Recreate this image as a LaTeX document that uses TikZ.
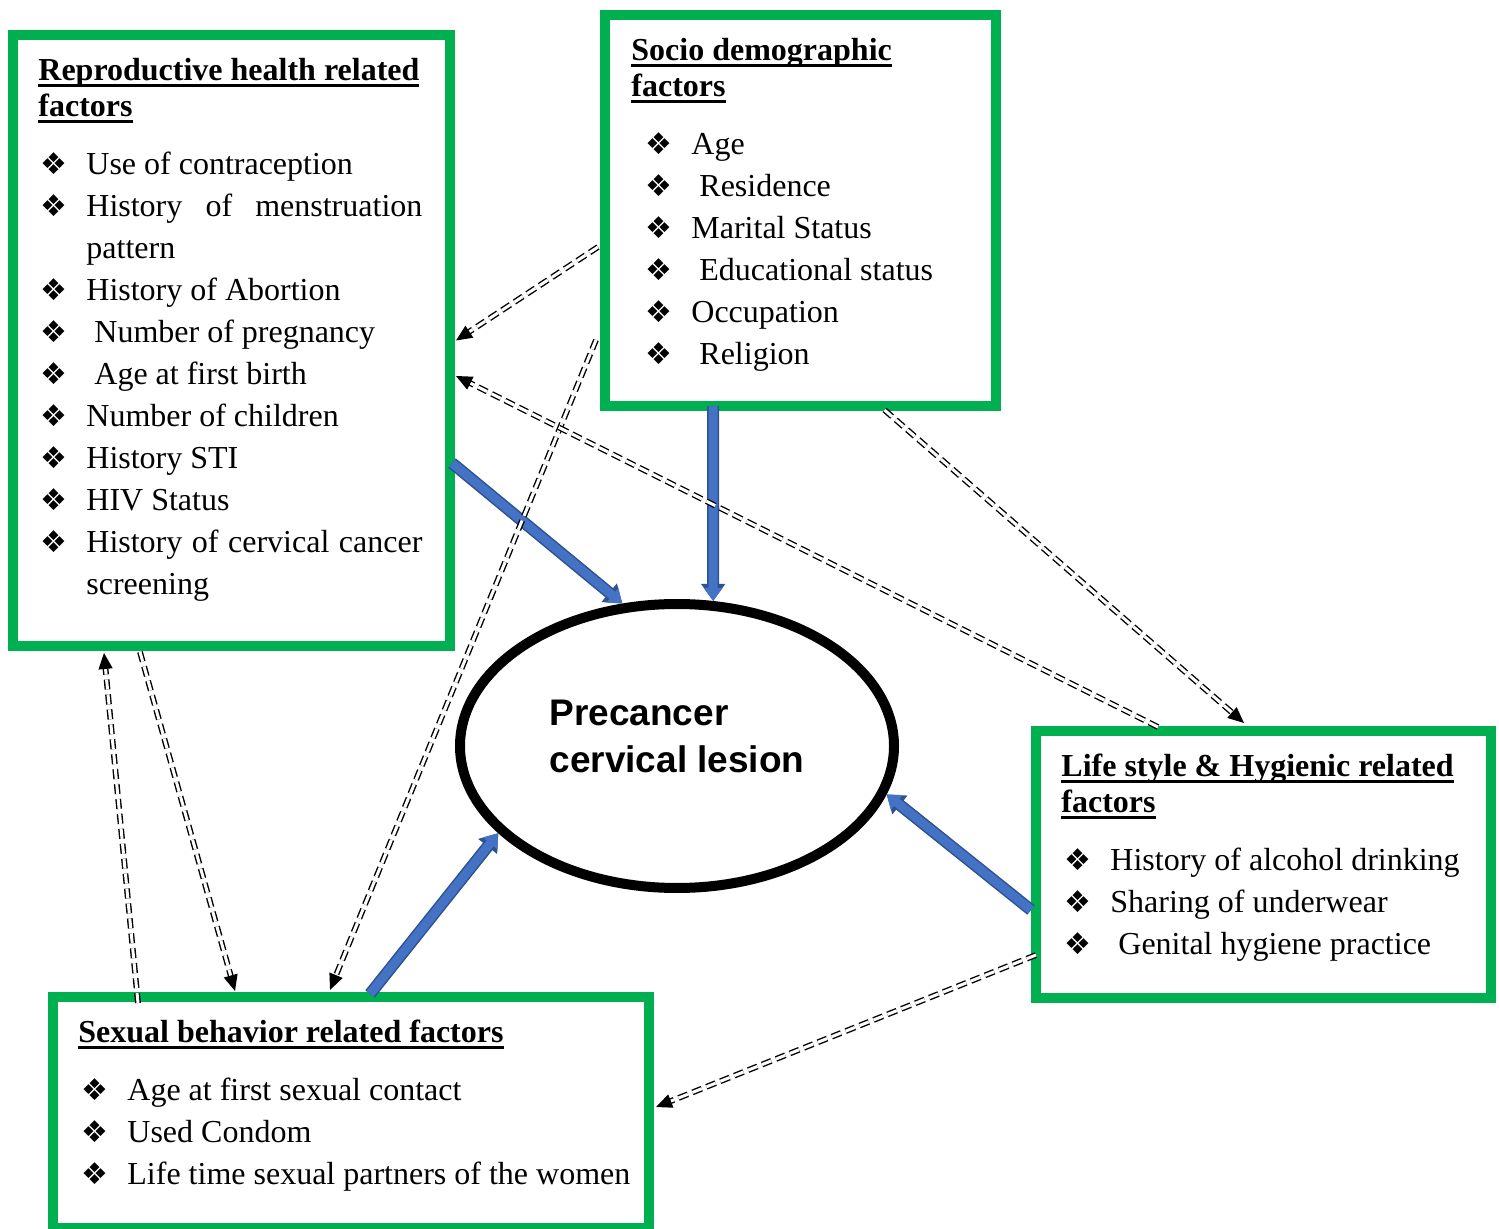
\documentclass[tikz,border=0pt]{standalone}
\usepackage{fontspec}
\setmainfont{Liberation Serif}
\newfontfamily\arialfont{Liberation Sans}
\newfontfamily\symfont{DejaVu Sans}
\usetikzlibrary{arrows.meta,shapes.geometric,calc,positioning}
\definecolor{boxgreen}{HTML}{00B050}
\definecolor{pushblue}{HTML}{4472C4}
\definecolor{pushrim}{HTML}{2F528F}
\newsavebox\hdbox
\newcommand{\hd}[1]{\sbox\hdbox{\bfseries #1}\rlap{\rule[-3pt]{\wd\hdbox}{1.4pt}}\usebox\hdbox}
\newcommand{\bul}{{\symfont\fontsize{15}{15}\selectfont ❖}}
\newcommand{\itm}[2]{\hspace*{#1}\makebox[23pt][l]{\bul}#2}

\begin{document}
\begin{tikzpicture}[x=0.5pt, y=-0.5pt,
    factorbox/.style={draw=boxgreen, line width=5pt, outer sep=0pt, inner sep=0pt, anchor=north west},
    listtext/.style={anchor=north west, inner sep=0pt, align=left, font=\fontsize{16}{21}\selectfont},
    link/.style={draw, double, line width=0.7pt, double distance=1.5pt, dash pattern=on 5pt off 2.5pt,
                 -{Triangle[length=8pt, width=7pt]}},
    push/.style={preaction={draw=pushrim, line width=6pt, -{Triangle[length=8.5pt, width=11.5pt]}},
                 draw=pushblue, line width=4.5pt, -{Triangle[length=6.5pt, width=9pt]}}]
    \useasboundingbox (0,0) rectangle (1499,1229);

    % the four groups of factors
    \node[factorbox, minimum width=218.5pt, minimum height=305.5pt] (repro) at (13,35) {};
    \node[factorbox, minimum width=195.5pt, minimum height=195.5pt] (socio) at (605,15) {};
    \node[factorbox, minimum width=227.5pt, minimum height=133.5pt] (life)  at (1036,731) {};
    \node[factorbox, minimum width=298pt,   minimum height=115.5pt] (sexual) at (53,997) {};

    \node[listtext] (reprolist) at ($(repro.north west)+(25,23)$) {
        \hd{Reproductive health related}\\[-3pt]
        \hd{factors}\\[8pt]
        \itm{1pt}{Use of contraception}\\
        \itm{1pt}{\makebox[168pt][s]{History of menstruation}}\\
        \hspace*{24pt}pattern\\
        \itm{1pt}{History of Abortion}\\
        \itm{1pt}{\ Number of pregnancy}\\
        \itm{1pt}{\ Age at first birth}\\
        \itm{1pt}{Number of children}\\
        \itm{1pt}{History STI}\\
        \itm{1pt}{HIV Status}\\
        \itm{1pt}{\makebox[168pt][s]{History of cervical cancer}}\\
        \hspace*{24pt}screening};
    \node[listtext] (sociolist) at ($(socio.north west)+(26,23)$) {
        \hd{Socio demographic}\\[-3pt]
        \hd{factors}\\[8pt]
        \itm{7pt}{Age}\\
        \itm{7pt}{\ Residence}\\
        \itm{7pt}{Marital Status}\\
        \itm{7pt}{\ Educational status}\\
        \itm{7pt}{Occupation}\\
        \itm{7pt}{\ Religion}};
    \node[listtext] (lifelist) at ($(life.north west)+(25,23)$) {
        \hd{Life style \& Hygienic related}\\[-3pt]
        \hd{factors}\\[8pt]
        \itm{1.5pt}{History of alcohol drinking}\\
        \itm{1.5pt}{Sharing of underwear}\\
        \itm{1.5pt}{\ Genital hygiene practice}};
    \node[listtext] (sexuallist) at ($(sexual.north west)+(25,23)$) {
        \hd{Sexual behavior related factors}\\[8pt]
        \itm{1.5pt}{Age at first sexual contact}\\
        \itm{1.5pt}{Used Condom}\\
        \itm{1.5pt}{Life time sexual partners of the women}};

    % outcome
    \node[ellipse, draw, line width=5pt, minimum width=217pt, minimum height=142pt] (lesion) at (677,746) {};
    \node[align=left, font=\arialfont\bfseries\fontsize{18.5}{23.5}\selectfont] (lesiontext)
        at ($(lesion.center)+(0,-10)$) {Precancer\\cervical lesion};

    % direct effects
    \path ($(repro.east)+(2,122.5)$) edge[push] (lesion.111)
          ($(socio.south)+(-87.5,0)$) edge[push] (lesion.76)
          ($(sexual.north)+(19,-3)$)  edge[push] (lesion.206)
          ($(life.west)+(-5,45.5)$)   edge[push] (lesion.347);

    % links between the groups
    \path ($(socio.west)+(-7,36.5)$)   edge[link] ($(repro.east)+(6,0)$)
          ($(socio.west)+(-9,129.5)$)  edge[link] ($(sexual.north)+(-21,-7)$)
          ($(life.north)+(-105.5,-4)$) edge[link] ($(repro.east)+(6,35.5)$)
          ($(socio.south)+(84,4)$)     edge[link] ($(life.north)+(-19.5,-8)$)
          ($(life.west)+(0,90.5)$)     edge[link] ($(sexual.east)+(7,-5.5)$)
          ($(repro.south)+(-91.5,6)$)  edge[link] ($(sexual.north)+(-116,-6)$)
          ($(sexual.north)+(-213,6)$)  edge[link] ($(repro.south)+(-127.5,7)$);
\end{tikzpicture}
\end{document}
